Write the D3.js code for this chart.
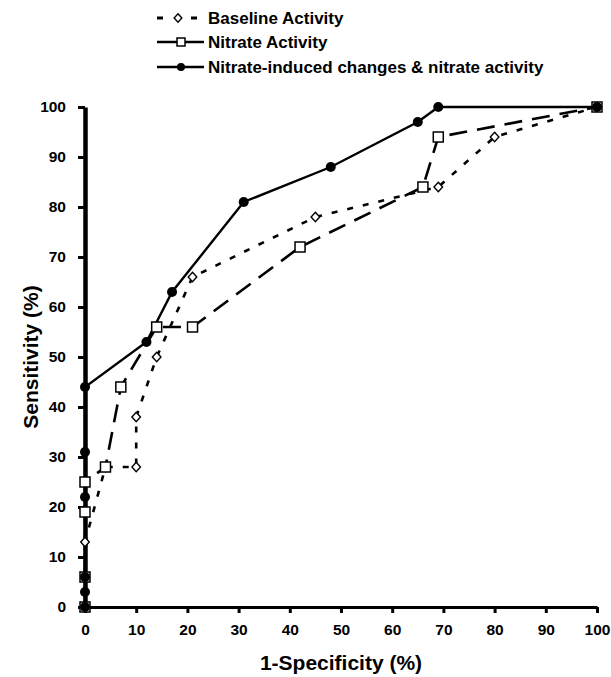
<!DOCTYPE html>
<html><head><meta charset="utf-8">
<script src="https://cdn.jsdelivr.net/npm/d3@7"></script>
<style>
html,body{margin:0;padding:0;background:#fff;}
svg{display:block;font-family:"Liberation Sans",Arial,Helvetica,sans-serif;}
</style></head>
<body>
<svg id="chart" width="611" height="677"></svg>
<script>
// ---- data (x = 1-Specificity %, y = Sensitivity %) ----
const baselineX = [0, 0, 4, 10, 10, 14, 21, 45, 69, 80, 100];
const baselineY = [0, 13, 28, 28, 38, 50, 66, 78, 84, 94, 100];
const nitrateX = [0, 0, 0, 0, 4, 7, 14, 21, 42, 66, 69, 100];
const nitrateY = [0, 6, 19, 25, 28, 44, 56, 56, 72, 84, 94, 100];
const inducedX = [0, 0, 0, 0, 0, 0, 12, 17, 31, 48, 65, 69, 100];
const inducedY = [0, 3, 6, 22, 31, 44, 53, 63, 81, 88, 97, 100, 100];
const tickValues = [0, 10, 20, 30, 40, 50, 60, 70, 80, 90, 100];
const seriesNames = ["Baseline Activity", "Nitrate Activity", "Nitrate-induced changes & nitrate activity"];
const xTitle = "1-Specificity (%)";
const yTitle = "Sensitivity (%)";

const zip = (xs, ys) => xs.map((v, i) => ({x: v, y: ys[i]}));
const series = [
  {name: seriesNames[0], pts: zip(baselineX, baselineY), dash: "6,10", width: 2.6, marker: "diamond"},
  {name: seriesNames[1], pts: zip(nitrateX, nitrateY), dash: "18,10", width: 2.6, marker: "square"},
  {name: seriesNames[2], pts: zip(inducedX, inducedY), dash: null, width: 2.4, marker: "circle"}
];

const svg = d3.select("#chart");
const x = d3.scaleLinear().domain([0, 100]).range([85, 597]);
const y = d3.scaleLinear().domain([0, 100]).range([607, 107]);

// axes
const gx = svg.append("g").attr("transform", `translate(0,${y(0)})`)
  .call(d3.axisBottom(x).tickValues(tickValues).tickSize(6).tickPadding(11).tickSizeOuter(0));
const gy = svg.append("g").attr("transform", `translate(${x(0)},0)`)
  .call(d3.axisLeft(y).tickValues(tickValues).tickSize(7).tickPadding(12).tickSizeOuter(0));
gx.select(".domain").attr("stroke", "#000").attr("stroke-width", 3);
gy.select(".domain").attr("stroke", "#000").attr("stroke-width", 4.5);
[gx, gy].forEach(g => {
  g.selectAll(".tick line").attr("stroke", "#000").attr("stroke-width", 3);
  g.selectAll(".tick text").attr("fill", "#000").style("font-size", "15.5px").style("font-weight", "bold")
    .style("font-family", '"Liberation Sans",Arial,sans-serif');
});

// axis titles
svg.append("text").attr("x", (x(0) + x(100)) / 2).attr("y", 670).attr("text-anchor", "middle")
  .style("font-size", "21px").style("font-weight", "bold").text(xTitle);
svg.append("text").attr("transform", `translate(38,${(y(0) + y(100)) / 2}) rotate(-90)`)
  .attr("text-anchor", "middle").style("font-size", "21px").style("font-weight", "bold").text(yTitle);

// lines
const line = d3.line().x(d => x(d.x)).y(d => y(d.y));
series.forEach(s => {
  svg.append("path").datum(s.pts).attr("d", line).attr("fill", "none")
    .attr("stroke", "#000").attr("stroke-width", s.width)
    .attr("stroke-dasharray", s.dash);
});

function drawMarker(g, type, cx, cy, k) {
  k = k || 1;
  if (type === "diamond") {
    const w = 4.3 * k, h = 4.7 * k;
    g.append("path").attr("d", `M${cx},${cy - h}L${cx + w},${cy}L${cx},${cy + h}L${cx - w},${cy}Z`)
      .attr("fill", "#fff").attr("stroke", "#000").attr("stroke-width", 1.4);
  } else if (type === "square") {
    const h = 5 * k;
    g.append("rect").attr("x", cx - h).attr("y", cy - h).attr("width", 2 * h).attr("height", 2 * h)
      .attr("fill", "#fff").attr("stroke", "#000").attr("stroke-width", 1.5);
  } else {
    g.append("circle").attr("cx", cx).attr("cy", cy).attr("r", 5 * k).attr("fill", "#000");
  }
}

series.forEach(s => {
  const g = svg.append("g");
  s.pts.forEach(p => drawMarker(g, s.marker, x(p.x), y(p.y)));
});

// legend
const legRows = [18, 42, 67];
const leg = svg.append("g");
series.forEach((s, i) => {
  const cy = legRows[i];
  if (i === 0) {
    leg.append("line").attr("x1", 157).attr("x2", 163).attr("y1", cy).attr("y2", cy)
      .attr("stroke", "#000").attr("stroke-width", 3);
    leg.append("line").attr("x1", 191).attr("x2", 197).attr("y1", cy).attr("y2", cy)
      .attr("stroke", "#000").attr("stroke-width", 3);
    drawMarker(leg, "diamond", 178, cy, 0.9);
  } else {
    leg.append("line").attr("x1", 157).attr("x2", 204).attr("y1", cy).attr("y2", cy)
      .attr("stroke", "#000").attr("stroke-width", 2.6);
    drawMarker(leg, s.marker, 181, cy, 0.8);
  }
  leg.append("text").attr("x", 208).attr("y", cy + 6).style("font-size", "17px")
    .style("font-weight", "bold").text(s.name);
});
</script>
</body></html>
